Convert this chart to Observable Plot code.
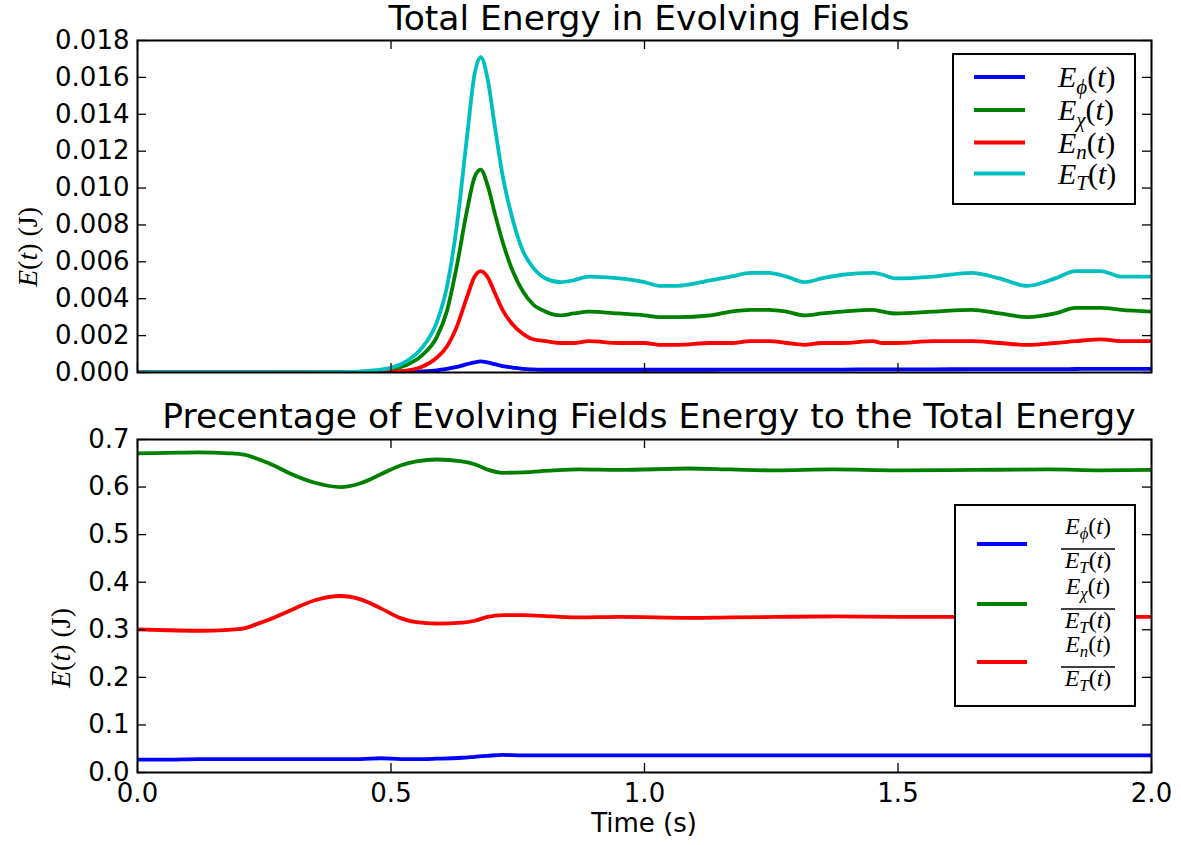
<!DOCTYPE html>
<html><head><meta charset="utf-8">
<script src="https://cdn.jsdelivr.net/npm/d3@7"></script>
<script src="https://cdn.jsdelivr.net/npm/@observablehq/plot@0.6"></script>
<style>
body{margin:0;background:#fff;}
#chart{position:relative;width:1181px;height:845px;background:#fff;}
#chart svg{display:block;}
</style>
</head><body><div id="chart"></div>
<script>
// ---------- data ----------
const timeTop = [0, 0.2, 0.4, 0.45, 0.5, 0.53, 0.56, 0.59, 0.61, 0.63, 0.65, 0.665, 0.677, 0.69, 0.705, 0.72, 0.74, 0.76, 0.78, 0.805, 0.835, 0.86, 0.89, 0.95, 1.0, 1.03, 1.065, 1.13, 1.17, 1.21, 1.245, 1.28, 1.315, 1.35, 1.39, 1.45, 1.47, 1.495, 1.57, 1.645, 1.70, 1.755, 1.81, 1.85, 1.90, 1.94, 2.0];
const ePhi = [0, 0, 0, 0, 0.00001, 0.00003, 0.00006, 0.00012, 0.0002, 0.0003, 0.00045, 0.00055, 0.0006, 0.00055, 0.00045, 0.00035, 0.00027, 0.0002, 0.00017, 0.00015, 0.00015, 0.00015, 0.00015, 0.00015, 0.00015, 0.00015, 0.00015, 0.00015, 0.00016, 0.00016, 0.00016, 0.00016, 0.00016, 0.00016, 0.00016, 0.00017, 0.00017, 0.00017, 0.00017, 0.00018, 0.00018, 0.00018, 0.00018, 0.00019, 0.0002, 0.0002, 0.0002];
const eChi = [0, 0, 0.00001, 0.00004, 0.00014, 0.0004, 0.0009, 0.0019, 0.0033, 0.0058, 0.0088, 0.0106, 0.0110, 0.0102, 0.0086, 0.0071, 0.0055, 0.0044, 0.0037, 0.0033, 0.0031, 0.0032, 0.0033, 0.0032, 0.0031, 0.0030, 0.0030, 0.0031, 0.0033, 0.0034, 0.0034, 0.0033, 0.0031, 0.0032, 0.0033, 0.0034, 0.0033, 0.0032, 0.0033, 0.0034, 0.0032, 0.0030, 0.0032, 0.0035, 0.0035, 0.0034, 0.0033];
const eN = [0, 0, 0, 0.00001, 0.00004, 0.0001, 0.0003, 0.0008, 0.0014, 0.0025, 0.0041, 0.0052, 0.0055, 0.0052, 0.0043, 0.0034, 0.0026, 0.0021, 0.0018, 0.0017, 0.0016, 0.0016, 0.0017, 0.0016, 0.0016, 0.0015, 0.0015, 0.0016, 0.0016, 0.0017, 0.0017, 0.0016, 0.0015, 0.0016, 0.0016, 0.0017, 0.0016, 0.0016, 0.0017, 0.0017, 0.0016, 0.0015, 0.0016, 0.0017, 0.0018, 0.0017, 0.0017];
const eT = [0, 0, 0.00002, 0.00008, 0.00025, 0.0006, 0.0013, 0.0027, 0.0046, 0.0080, 0.0128, 0.0162, 0.0171, 0.0160, 0.0133, 0.0107, 0.0083, 0.0066, 0.0057, 0.0051, 0.0049, 0.0050, 0.0052, 0.0051, 0.0049, 0.0047, 0.0047, 0.0050, 0.0052, 0.0054, 0.0054, 0.0052, 0.0049, 0.0051, 0.0053, 0.0054, 0.0053, 0.0051, 0.0052, 0.0054, 0.0051, 0.0047, 0.0051, 0.0055, 0.0055, 0.0052, 0.0052];

const timeBottom = [0, 0.06, 0.12, 0.18, 0.21, 0.24, 0.27, 0.3, 0.35, 0.4, 0.44, 0.48, 0.52, 0.55, 0.59, 0.64, 0.665, 0.69, 0.72, 0.76, 0.82, 0.87, 0.95, 1.09, 1.17, 1.26, 1.37, 1.5, 1.65, 1.8, 1.9, 2.0];
const ratioPhi = [0.027, 0.027, 0.028, 0.028, 0.028, 0.028, 0.028, 0.028, 0.028, 0.028, 0.028, 0.030, 0.028, 0.028, 0.029, 0.031, 0.033, 0.035, 0.037, 0.036, 0.036, 0.036, 0.036, 0.036, 0.036, 0.036, 0.036, 0.036, 0.036, 0.036, 0.036, 0.036];
const ratioChi = [0.671, 0.672, 0.673, 0.671, 0.668, 0.658, 0.645, 0.629, 0.609, 0.600, 0.608, 0.627, 0.646, 0.654, 0.658, 0.654, 0.648, 0.637, 0.630, 0.631, 0.635, 0.637, 0.636, 0.639, 0.637, 0.635, 0.637, 0.635, 0.636, 0.637, 0.635, 0.636];
const ratioN = [0.301, 0.299, 0.298, 0.300, 0.303, 0.314, 0.326, 0.340, 0.362, 0.371, 0.364, 0.345, 0.324, 0.316, 0.313, 0.315, 0.319, 0.327, 0.331, 0.331, 0.328, 0.326, 0.327, 0.325, 0.326, 0.327, 0.328, 0.327, 0.327, 0.328, 0.327, 0.327];

const xTicks = [0, 0.5, 1.0, 1.5, 2.0];
const yTicksTop = [0, 0.002, 0.004, 0.006, 0.008, 0.010, 0.012, 0.014, 0.016, 0.018];
const yTicksBottom = [0, 0.1, 0.2, 0.3, 0.4, 0.5, 0.6, 0.7];

const seriesTop = ["phi", "chi", "n", "T"];
const subTop = ["\u03D5", "\u03C7", "n", "T"];
const seriesBottom = ["phi", "chi", "n"];
const subBottom = ["\u03D5", "\u03C7", "n"];
const colorDomain = ["phi", "chi", "n", "T"];
const colorRange = ["#0000ff", "#008000", "#ff0000", "#00bfbf"];

const titleTop = "Total Energy in Evolving Fields";
const titleBottom = "Precentage of Evolving Fields Energy to the Total Energy";
const xLabel = "Time (s)";

// ---------- tables ----------
const topValues = [ePhi, eChi, eN, eT];
const topData = seriesTop.flatMap((s, k) => timeTop.map((t, i) => ({t, v: topValues[k][i], s})));
const bottomValues = [ratioPhi, ratioChi, ratioN];
const bottomData = seriesBottom.flatMap((s, k) => timeBottom.map((t, i) => ({t, v: bottomValues[k][i], s})));

// ---------- layout ----------
const W = 1181;
const ML = 137, MR = 30;
const FW = W - ML - MR;
const TICK = 9;
const FONT = "DejaVu Sans, Verdana, sans-serif";
const SERIF = "Liberation Serif, 'Times New Roman', DejaVu Serif, serif";

function panel({data, yDomain, yTicks, yFmt, height, mt, mb, showX}) {
  const FH = height - mt - mb;
  const marks = [
    Plot.line(data, {x: "t", y: "v", z: "s", stroke: "s", strokeWidth: 3.8, curve: "monotone-x", clip: true}),
    Plot.tickY(yTicks, {y: d => d, insetRight: FW - TICK, stroke: "black", strokeWidth: 1.3}),
    Plot.tickY(yTicks, {y: d => d, insetLeft: FW - TICK, stroke: "black", strokeWidth: 1.3}),
    Plot.tickX(xTicks, {x: d => d, insetTop: FH - TICK, stroke: "black", strokeWidth: 1.3}),
    Plot.tickX(xTicks, {x: d => d, insetBottom: FH - TICK, stroke: "black", strokeWidth: 1.3}),
    Plot.frame({stroke: "black", strokeWidth: 2}),
    Plot.axisY(yTicks, {tickSize: 0, tickPadding: 8, tickFormat: d3.format(yFmt), fontSize: 26, label: null})
  ];
  if (showX) marks.push(Plot.axisX(xTicks, {tickSize: 0, tickPadding: 11, tickFormat: d3.format(".1f"), fontSize: 26, label: null}));
  return Plot.plot({
    width: W, height,
    marginLeft: ML, marginRight: MR, marginTop: mt, marginBottom: mb,
    style: {fontFamily: FONT, fontSize: "26px", background: "white", overflow: "visible"},
    x: {domain: [0, 2], axis: showX ? undefined : null},
    y: {domain: yDomain},
    color: {domain: colorDomain, range: colorRange},
    marks
  });
}

function mathE(g, x, y, sub, size, anchor) {
  const t = g.append("text").attr("x", x).attr("y", y)
    .attr("font-family", SERIF).attr("font-size", size).attr("text-anchor", anchor).attr("fill", "black");
  t.append("tspan").attr("font-style", "italic").text("E");
  t.append("tspan").attr("font-style", "italic").attr("font-size", size * 0.7).attr("dy", size * 0.22).text(sub);
  t.append("tspan").attr("dy", -size * 0.22).text("(");
  t.append("tspan").attr("font-style", "italic").text("t");
  t.append("tspan").text(")");
  return t;
}

function yLabel(svg, cx, cy) {
  const t = svg.append("text").attr("transform", `translate(${cx},${cy}) rotate(-90)`)
    .attr("font-family", SERIF).attr("font-size", 28).attr("text-anchor", "middle")
    .attr("dominant-baseline", "central").attr("fill", "black");
  t.append("tspan").attr("font-style", "italic").text("E");
  t.append("tspan").text("(");
  t.append("tspan").attr("font-style", "italic").text("t");
  t.append("tspan").text(") (J)");
}

function title(svg, text, y) {
  svg.append("text").attr("x", ML + FW / 2 + 5).attr("y", y).attr("text-anchor", "middle")
    .attr("font-family", FONT).attr("font-size", 34.5).attr("fill", "black").text(text);
}

const chart = document.getElementById("chart");

// top panel
const topSvg = panel({data: topData, yDomain: [0, 0.018], yTicks: yTicksTop, yFmt: ".3f", height: 400, mt: 40, mb: 28, showX: false});
chart.appendChild(topSvg);
{
  const svg = d3.select(topSvg);
  title(svg, titleTop, 30);
  yLabel(svg, 27, 247);
  const g = svg.append("g");
  g.append("rect").attr("x", 953).attr("y", 54).attr("width", 182).attr("height", 150)
    .attr("fill", "white").attr("stroke", "black").attr("stroke-width", 2);
  const ly = [77, 110, 142.5, 173.5];
  seriesTop.forEach((s, i) => {
    g.append("line").attr("x1", 974).attr("x2", 1025).attr("y1", ly[i]).attr("y2", ly[i])
      .attr("stroke", colorRange[colorDomain.indexOf(s)]).attr("stroke-width", 3.8);
    mathE(g, 1058, ly[i] + 10, subTop[i], 30, "start");
  });
}

// bottom panel
const botSvg = panel({data: bottomData, yDomain: [0, 0.7], yTicks: yTicksBottom, yFmt: ".1f", height: 445, mt: 39, mb: 73, showX: true});
chart.appendChild(botSvg);
{
  const svg = d3.select(botSvg);
  title(svg, titleBottom, 28);
  yLabel(svg, 60, 248);
  svg.append("text").attr("x", ML + FW / 2).attr("y", 432).attr("text-anchor", "middle")
    .attr("font-family", FONT).attr("font-size", 26).attr("fill", "black").text(xLabel);
  const g = svg.append("g");
  g.append("rect").attr("x", 955).attr("y", 105).attr("width", 180).attr("height", 201)
    .attr("fill", "white").attr("stroke", "black").attr("stroke-width", 2);
  const ly = [144, 204, 262];
  seriesBottom.forEach((s, i) => {
    g.append("line").attr("x1", 977).attr("x2", 1027).attr("y1", ly[i]).attr("y2", ly[i])
      .attr("stroke", colorRange[colorDomain.indexOf(s)]).attr("stroke-width", 3.8);
    const bar = ly[i] + 5;
    mathE(g, 1088, bar - 15, subBottom[i], 24, "middle");
    g.append("line").attr("x1", 1061).attr("x2", 1115).attr("y1", bar).attr("y2", bar)
      .attr("stroke", "black").attr("stroke-width", 1.5);
    mathE(g, 1088, bar + 19, "T", 24, "middle");
  });
}
</script>
</body></html>
